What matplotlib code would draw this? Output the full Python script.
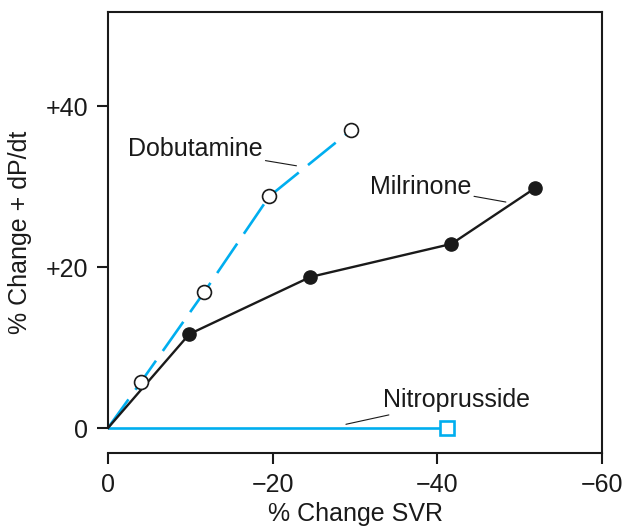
import matplotlib
matplotlib.use("Agg")
import matplotlib.pyplot as plt

plt.rcParams['font.family'] = ['Liberation Sans', 'DejaVu Sans']

# data
dobutamine_x = [0, -4.0, -11.7, -19.6, -29.5]
dobutamine_y = [0, 5.7, 16.9, 28.8, 37.0]
milrinone_x = [0, -9.9, -24.6, -41.7, -51.8]
milrinone_y = [0, 11.7, 18.8, 22.9, 29.8]
nitro_x = [0, -41.1]
nitro_y = [0, 0]

x_ticks = [0, -20, -40, -60]
x_tick_labels = ['0', '\u221220', '\u221240', '\u221260']
y_ticks = [0, 20, 40]
y_tick_labels = ['0', '+20', '+40']

blue = '#00AEEF'
ink = '#1a1a1a'

fig = plt.figure(figsize=(6.25, 5.28), dpi=100)
ax = fig.add_axes([0.1723, 0.1415, 0.7914, 0.8358])

# nitroprusside: solid blue line, open square at the end
ax.plot(nitro_x, nitro_y, color=blue, lw=1.9, zorder=2)
ax.plot(nitro_x[-1:], nitro_y[-1:], 's', ms=9.5, mfc='white', mec=blue, mew=1.9,
        zorder=4, clip_on=False)

# dobutamine: dashed blue line, open circles
ax.plot(dobutamine_x, dobutamine_y, color=blue, lw=1.9, dashes=(13.5, 4.5), zorder=2)
ax.plot(dobutamine_x[1:], dobutamine_y[1:], 'o', ms=10, mfc='white', mec=ink,
        mew=1.2, zorder=4)

# milrinone: solid black line, filled circles
ax.plot(milrinone_x, milrinone_y, color=ink, lw=1.7, zorder=3)
ax.plot(milrinone_x[1:], milrinone_y[1:], 'o', ms=9.5, color=ink, zorder=4)

ax.set_xlim(0, -60)
ax.set_ylim(-3.1, 51.7)

ax.set_xticks(x_ticks)
ax.set_xticklabels(x_tick_labels)
ax.set_yticks(y_ticks)
ax.set_yticklabels(y_tick_labels)
ax.tick_params(direction='out', length=8, width=1.5, labelsize=18, pad=6,
               color=ink, labelcolor=ink)

for side in ['left', 'right', 'top', 'bottom']:
    ax.spines[side].set_linewidth(1.5)
    ax.spines[side].set_color(ink)
ax.spines['left'].set_bounds(0, 51.7)

ax.set_xlabel('% Change SVR', fontsize=18, color=ink, labelpad=4)
ax.set_ylabel('% Change + dP/dt', fontsize=18, color=ink, labelpad=10)

# labels with leader lines
txt = dict(fontsize=18, color=ink, va='center')
lead = dict(arrowstyle='-', lw=0.8, color=ink, shrinkA=0, shrinkB=0)
ax.annotate('Dobutamine', xy=(-22.9, 32.6), xytext=(-18.8, 34.7), ha='right',
            arrowprops=lead, **txt)
ax.annotate('Milrinone', xy=(-48.3, 28.1), xytext=(-44.1, 30.0), ha='right',
            arrowprops=lead, **txt)
ax.annotate('Nitroprusside', xy=(-28.9, 0.5), xytext=(-33.4, 3.5), ha='left',
            arrowprops=lead, **txt)

fig.savefig('out.png', dpi=100)
